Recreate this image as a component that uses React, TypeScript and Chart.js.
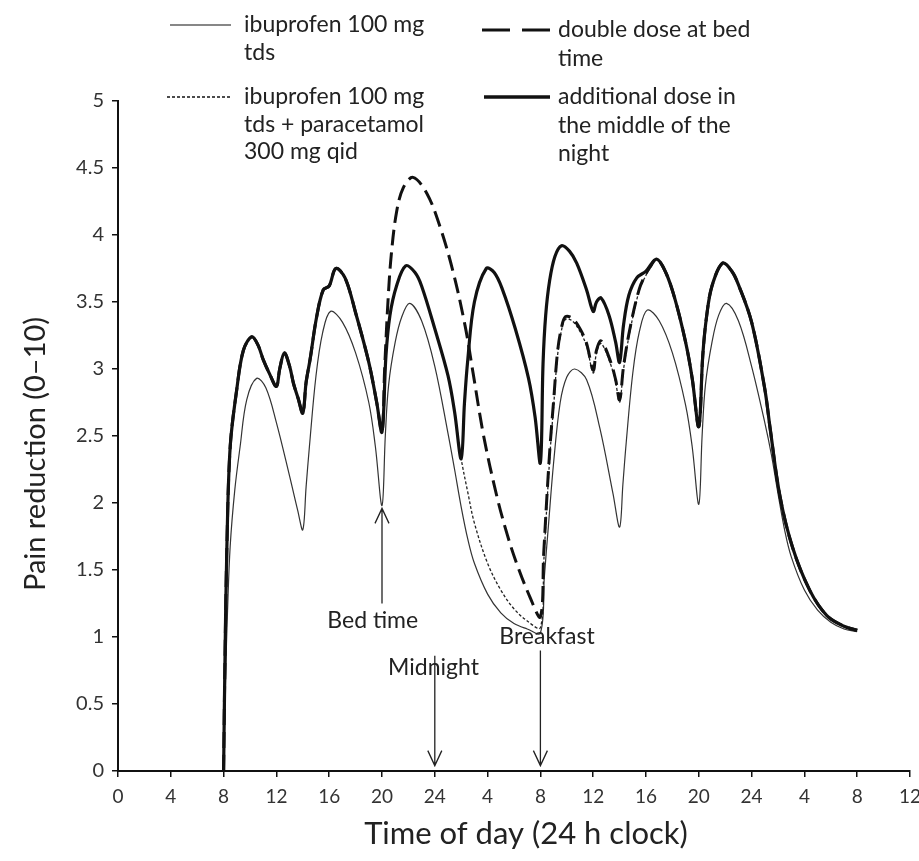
import React, { useEffect, useRef } from 'react';
import { Chart, registerables } from 'chart.js';

Chart.register(...registerables);

// ---------------- Data (x = hours from day-1 midnight, y = pain reduction 0–10) ----------------

// ibuprofen 100 mg tds (thin solid)
const ibuTdsX = [8, 8.15, 8.3, 8.5, 8.85, 9.25, 9.75, 10.5, 11.2, 12, 13, 13.6, 14, 14.25, 14.5, 15, 15.5, 16.1, 17, 18, 19, 19.5, 20,
  20.25, 20.5, 21, 21.5, 22.1, 23, 24, 25, 25.5, 26, 26.5, 27, 28, 29, 30, 31, 32,
  32.3, 32.6, 33, 33.5, 34, 34.6, 35.5, 36.5, 37.5, 38, 38.25, 38.5, 39, 39.5, 40.1, 41, 42, 43, 43.5, 44,
  44.25, 44.5, 45, 45.5, 46.1, 47, 48, 49, 49.5, 50, 50.5, 51, 52, 53, 54, 55, 56];
const ibuTdsY = [0, 0.7, 1.2, 1.68, 2.1, 2.42, 2.77, 2.93, 2.86, 2.6, 2.2, 1.95, 1.8, 2.12, 2.42, 2.95, 3.27, 3.43, 3.35, 3.12, 2.75, 2.42, 1.98,
  2.5, 2.88, 3.2, 3.39, 3.49, 3.36, 3.02, 2.52, 2.25, 1.97, 1.73, 1.55, 1.32, 1.18, 1.1, 1.06, 1.03,
  1.45, 1.82, 2.3, 2.75, 2.94, 3.0, 2.92, 2.56, 2.07, 1.82, 2.14, 2.45, 2.97, 3.28, 3.44, 3.36, 3.12, 2.73, 2.42, 1.99,
  2.5, 2.88, 3.2, 3.4, 3.49, 3.36, 3.02, 2.6, 2.36, 2.07, 1.8, 1.6, 1.35, 1.2, 1.11, 1.06, 1.04];

// ibuprofen + paracetamol, day 1 until bed time (shared by the three combination regimens)
const comboDay1X = [8, 8.1, 8.25, 8.5, 9, 9.5, 10.13, 10.6, 11, 11.5, 12, 12.25, 12.6, 13, 13.3, 13.65, 14, 14.25, 14.55, 15.05, 15.55, 16, 16.5, 17.2, 18, 19, 19.6, 20];
const comboDay1Y = [0, 0.8, 1.68, 2.42, 2.85, 3.14, 3.24, 3.18, 3.07, 2.96, 2.87, 3.0, 3.12, 3.02, 2.89, 2.78, 2.67, 2.9, 3.07, 3.39, 3.59, 3.62, 3.75, 3.68, 3.42, 3.05, 2.75, 2.53];

// standard bed-time dose, evening until 02:00 (combination and additional-night-dose regimens)
const comboEveningX = [20.3, 20.6, 21.1, 21.8, 22.5, 23, 24, 25, 25.5, 26];
const comboEveningY = [3.1, 3.4, 3.62, 3.77, 3.72, 3.62, 3.3, 2.95, 2.68, 2.33];

// additional dose in the middle of the night: 02:00 to breakfast
const extraNightX = [26.25, 26.5, 27, 27.9, 28.5, 29.1, 30.1, 31.1, 31.6, 32];
const extraNightY = [2.75, 3.07, 3.5, 3.75, 3.72, 3.6, 3.3, 2.93, 2.64, 2.3];

// additional dose regimen, day 2 morning until curves merge
const extraDay2X = [32.2, 32.4, 32.7, 33.1, 33.6, 34.2, 34.75, 35.5, 36, 36.25, 36.6, 37.2, 37.7, 38, 38.3, 38.7, 39.3, 40];
const extraDay2Y = [3.04, 3.4, 3.66, 3.84, 3.92, 3.88, 3.79, 3.59, 3.43, 3.5, 3.53, 3.4, 3.2, 3.05, 3.33, 3.55, 3.68, 3.73];

// combination regimen without extra dose: 02:00 to breakfast
const comboNightX = [26.5, 27, 28, 29, 30, 31, 32];
const comboNightY = [2.08, 1.85, 1.55, 1.35, 1.21, 1.12, 1.07];

// combination regimen, day 2 morning
const comboDay2X = [32.25, 32.5, 32.75, 33, 33.3, 33.6, 33.9, 34.4, 35, 35.5, 36, 36.25, 36.6, 37.3, 37.7, 38, 38.3, 38.8, 39.5, 40, 40.3];
const comboDay2Y = [1.55, 2.0, 2.4, 2.72, 3.1, 3.29, 3.37, 3.36, 3.28, 3.17, 2.97, 3.12, 3.19, 3.04, 2.9, 2.75, 3.0, 3.29, 3.59, 3.7, 3.75];

// double dose at bed time: bed time to breakfast
const doubleNightX = [20.2, 20.45, 20.7, 21.1, 21.6, 22.35, 23.4, 24.4, 25.4, 26.3, 26.9, 27.7, 28.7, 29.5, 30.2, 31.2, 32];
const doubleNightY = [3.0, 3.5, 3.85, 4.17, 4.35, 4.43, 4.31, 4.06, 3.72, 3.32, 2.97, 2.5, 2.05, 1.76, 1.55, 1.3, 1.15];

// double dose regimen, day 2 morning
const doubleDay2X = [32.25, 32.5, 32.75, 33, 33.3, 33.6, 33.9, 34.4, 35, 35.5, 36, 36.25, 36.6, 37.3, 37.7, 38, 38.3, 38.8, 39.5, 40, 40.3];
const doubleDay2Y = [1.62, 2.06, 2.45, 2.76, 3.13, 3.31, 3.39, 3.38, 3.3, 3.19, 2.99, 3.14, 3.21, 3.06, 2.92, 2.77, 3.02, 3.31, 3.6, 3.71, 3.76];

// all combination regimens, day 2 afternoon onwards (merged)
const comboDay2EveX = [40.8, 41.5, 42.2, 43, 43.5, 44, 44.3, 44.6, 45, 45.8, 46.5, 47, 48, 49, 49.4, 50.15, 51.1, 52.4, 53.7, 55, 56];
const comboDay2EveY = [3.82, 3.72, 3.52, 3.2, 2.93, 2.57, 3.1, 3.4, 3.62, 3.79, 3.73, 3.63, 3.35, 2.85, 2.56, 2.05, 1.67, 1.35, 1.16, 1.08, 1.05];

const xTickLabels = ['0', '4', '8', '12', '16', '20', '24', '4', '8', '12', '16', '20', '24', '4', '8', '12'];
const yTickLabels = ['0', '0.5', '1', '1.5', '2', '2.5', '3', '3.5', '4', '4.5', '5'];

const seriesNames = [
  'additional dose in the middle of the night',
  'double dose at bed time',
  'ibuprofen 100 mg tds + paracetamol 300 mg qid',
  'ibuprofen 100 mg tds',
];

const legendText = {
  thin: ['ibuprofen 100 mg', 'tds'],
  dotted: ['ibuprofen 100 mg', 'tds + paracetamol', '300 mg qid'],
  dashed: ['double dose at bed', 'time'],
  thick: ['additional dose in', 'the middle of the', 'night'],
};

const xTitle = 'Time of day (24 h clock)';
const yTitle = 'Pain reduction (0–10)';

// annotation arrows (data units)
const markers = [
  { label: 'Bed time', x: 20, from: 1.25, to: 1.96, labelX: 19.3, labelY: 1.12 },
  { label: 'Midnight', x: 24, from: 0.86, to: 0.04, labelX: 23.9, labelY: 0.77 },
  { label: 'Breakfast', x: 32, from: 0.9, to: 0.04, labelX: 32.5, labelY: 1.0 },
];

// ---------------- helpers ----------------
type P = { x: number; y: number };
const pts = (xs: number[], ys: number[]): P[] => xs.map((x, i) => ({ x, y: ys[i] }));

const thickData = [
  ...pts(comboDay1X, comboDay1Y),
  ...pts(comboEveningX, comboEveningY),
  ...pts(extraNightX, extraNightY),
  ...pts(extraDay2X, extraDay2Y),
  ...pts(comboDay2EveX, comboDay2EveY),
];
const dottedData = [
  ...pts(comboDay1X, comboDay1Y),
  ...pts(comboEveningX, comboEveningY),
  ...pts(comboNightX, comboNightY),
  ...pts(comboDay2X, comboDay2Y),
  ...pts(comboDay2EveX, comboDay2EveY),
];
const dashedData = [
  ...pts(comboDay1X, comboDay1Y),
  ...pts(doubleNightX, doubleNightY),
  ...pts(doubleDay2X, doubleDay2Y),
  ...pts(comboDay2EveX, comboDay2EveY),
];
const thinData = pts(ibuTdsX, ibuTdsY);

const FONT = 'Lato, "Open Sans", sans-serif';
const TEXT = '#222';

const overlayPlugin = {
  id: 'overlay',
  afterDraw(chart: any) {
    const ctx: CanvasRenderingContext2D = chart.ctx;
    const xs = chart.scales.x;
    const ys = chart.scales.y;
    ctx.save();
    ctx.fillStyle = TEXT;
    ctx.textBaseline = 'middle';

    // axis titles
    ctx.textAlign = 'center';
    ctx.font = `31px ${FONT}`;
    ctx.fillText(xTitle, 526, 834);
    ctx.save();
    ctx.translate(36, 454);
    ctx.rotate(-Math.PI / 2);
    ctx.font = `29px ${FONT}`;
    ctx.fillText(yTitle, 0, 0);
    ctx.restore();

    // legend
    ctx.textAlign = 'left';
    ctx.font = `23px ${FONT}`;
    const item = (x1: number, x2: number, y: number, w: number, dash: number[], lines: string[], tx: number, lh: number) => {
      ctx.save();
      ctx.strokeStyle = '#111';
      ctx.lineWidth = w;
      ctx.setLineDash(dash);
      ctx.beginPath();
      ctx.moveTo(x1, y);
      ctx.lineTo(x2, y);
      ctx.stroke();
      ctx.restore();
      lines.forEach((t, i) => ctx.fillText(t, tx, y + i * lh));
    };
    item(170, 231, 25, 1.2, [], legendText.thin, 244, 27.5);
    item(167, 231, 97, 1.3, [3, 2], legendText.dotted, 244, 27.5);
    item(482, 550, 30, 3.2, [28, 12], legendText.dashed, 558, 28.5);
    item(484, 550, 97, 3.6, [], legendText.thick, 558, 28.5);

    // arrows + labels
    ctx.strokeStyle = '#222';
    ctx.lineWidth = 1.3;
    ctx.textAlign = 'center';
    ctx.font = `23px ${FONT}`;
    markers.forEach((m) => {
      const px = xs.getPixelForValue(m.x);
      const p1 = ys.getPixelForValue(m.from);
      const p2 = ys.getPixelForValue(m.to);
      const dir = p2 > p1 ? 1 : -1;
      ctx.beginPath();
      ctx.moveTo(px, p1);
      ctx.lineTo(px, p2);
      ctx.moveTo(px - 7, p2 - dir * 15);
      ctx.lineTo(px, p2);
      ctx.lineTo(px + 7, p2 - dir * 15);
      ctx.stroke();
      ctx.fillText(m.label, xs.getPixelForValue(m.labelX), ys.getPixelForValue(m.labelY));
    });
    ctx.restore();
  },
};

export default function App() {
  const ref = useRef<HTMLCanvasElement | null>(null);
  useEffect(() => {
    if (!ref.current) return;
    const line = (data: P[], label: string, color: string, width: number, dash: number[]) => ({
      label,
      data,
      borderColor: color,
      backgroundColor: color,
      borderWidth: width,
      borderDash: dash,
      borderJoinStyle: 'round' as const,
      pointRadius: 0,
      tension: 0.35,
      fill: false,
    });
    const chart = new Chart(ref.current, {
      type: 'line',
      data: {
        datasets: [
          line(thickData, seriesNames[0], '#111', 3.2, []),
          line(dashedData, seriesNames[1], '#111', 3, [16, 7]),
          line(dottedData, seriesNames[2], '#222', 1.3, [3, 2]),
          line(thinData, seriesNames[3], '#333', 1.2, []),
        ],
      },
      options: {
        responsive: false,
        animation: false,
        devicePixelRatio: 1,
        layout: { padding: { top: 101, right: 9, left: 0, bottom: 0 } },
        plugins: { legend: { display: false }, tooltip: { enabled: false }, title: { display: false } },
        scales: {
          x: {
            type: 'linear',
            min: 0,
            max: 60,
            border: { display: true, color: '#111', width: 2 },
            grid: { display: true, drawOnChartArea: false, drawTicks: true, tickLength: 6, color: '#111', lineWidth: 1.5 },
            ticks: {
              stepSize: 4,
              padding: 8,
              color: '#333',
              font: { family: FONT, size: 19 },
              maxRotation: 0,
              autoSkip: false,
              callback: (_v: any, i: number) => xTickLabels[i] ?? '',
            },
            afterFit: (s: any) => {
              s.height = 90;
              s.paddingLeft = 0;
              s.paddingRight = 0;
            },
          },
          y: {
            min: 0,
            max: 5,
            border: { display: true, color: '#111', width: 2 },
            grid: { display: true, drawOnChartArea: false, drawTicks: true, tickLength: 6, color: '#111', lineWidth: 1.5 },
            ticks: {
              stepSize: 0.5,
              padding: 8,
              color: '#333',
              font: { family: FONT, size: 20 },
              autoSkip: false,
              callback: (_v: any, i: number) => yTickLabels[i] ?? '',
            },
            afterFit: (s: any) => {
              s.width = 118;
              s.paddingTop = 0;
              s.paddingBottom = 0;
            },
          },
        },
      },
      plugins: [overlayPlugin],
    } as any);
    return () => chart.destroy();
  }, []);

  return (
    <div style={{ position: 'absolute', left: 0, top: 0, width: 919, height: 861, background: '#fff' }}>
      <canvas ref={ref} width={919} height={861} style={{ display: 'block', width: 919, height: 861 }} />
    </div>
  );
}
